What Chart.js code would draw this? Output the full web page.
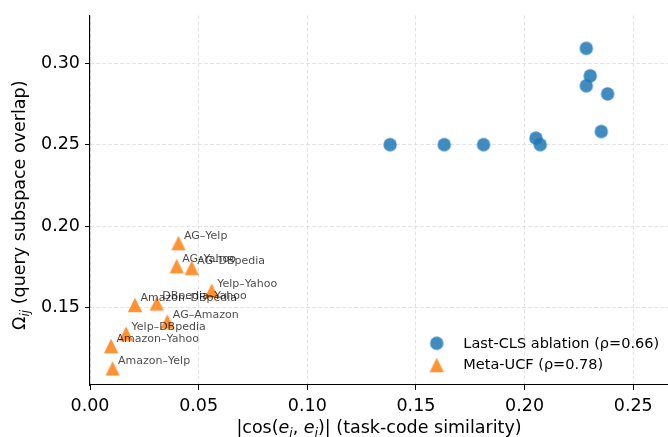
<!DOCTYPE html>
<html>
<head>
<meta charset="utf-8">
<script src="https://cdn.jsdelivr.net/npm/chart.js@4.4.1/dist/chart.umd.min.js"></script>
<style>
  html, body { margin: 0; padding: 0; background: #fff; }
  #wrap { width: 668px; height: 437px; position: relative; }
</style>
</head>
<body>
<div id="wrap"><canvas id="c"></canvas></div>
<script>
// ---- data ----
const pairLabels = ['AG–Yelp', 'AG–Yahoo', 'AG–DBpedia', 'Yelp–Yahoo', 'DBpedia–Yahoo',
                    'Amazon–DBpedia', 'AG–Amazon', 'Yelp–DBpedia', 'Amazon–Yahoo', 'Amazon–Yelp'];
const ucfCos   = [0.0407, 0.0399, 0.0468, 0.0560, 0.0307, 0.0207, 0.0356, 0.0166, 0.0097, 0.0104];
const ucfOmega = [0.1895, 0.1754, 0.1743, 0.1602, 0.1524, 0.1515, 0.1413, 0.1338, 0.1263, 0.1125];
const clsCos   = [0.2284, 0.2302, 0.2284, 0.2382, 0.2353, 0.2052, 0.2072, 0.1811, 0.1630, 0.1381];
const clsOmega = [0.3092, 0.2923, 0.2862, 0.2812, 0.2581, 0.2540, 0.2500, 0.2500, 0.2500, 0.2500];
const seriesNames = ['Last-CLS ablation (ρ=0.66)', 'Meta-UCF (ρ=0.78)'];
const xTickValues = [0.00, 0.05, 0.10, 0.15, 0.20, 0.25];
const xTickLabels = ['0.00', '0.05', '0.10', '0.15', '0.20', '0.25'];
const yTickValues = [0.15, 0.20, 0.25, 0.30];
const yTickLabels = ['0.15', '0.20', '0.25', '0.30'];

const FONT = "'DejaVu Sans', 'Liberation Sans', sans-serif";
const BLUE = 'rgba(31,119,180,0.85)';
const ORANGE = 'rgba(255,127,14,0.85)';

function makeMarker(shape, color) {
  const cv = document.createElement('canvas');
  cv.width = 16; cv.height = 16;
  const g = cv.getContext('2d');
  g.fillStyle = color;
  g.beginPath();
  if (shape === 'circle') {
    g.arc(8, 8, 6.7, 0, Math.PI * 2);
  } else {
    const h = 7.15;
    g.moveTo(8, 8 - h); g.lineTo(8 - h, 8 + h); g.lineTo(8 + h, 8 + h); g.closePath();
  }
  g.fill();
  return cv;
}
const circleMarker = makeMarker('circle', BLUE);
const triMarker = makeMarker('triangle', ORANGE);

const toPts = (xs, ys) => xs.map((x, i) => ({ x: x, y: ys[i] }));

function measureRich(ctx, segs, baseSize) {
  let w = 0;
  const parts = segs.map(s => {
    const size = s.sub ? baseSize * 0.7 : baseSize;
    const font = (s.it ? 'italic ' : '') + size + 'px ' + FONT;
    ctx.font = font;
    const mw = ctx.measureText(s.t).width;
    const p = { t: s.t, font: font, x: w, dy: s.sub ? baseSize * 0.22 : 0 };
    w += mw;
    return p;
  });
  return { width: w, parts: parts };
}
function paintRich(ctx, rich, x0, y0) {
  rich.parts.forEach(p => {
    ctx.font = p.font;
    ctx.fillText(p.t, x0 + p.x, y0 + p.dy);
  });
}

const xTitle = [
  { t: '|cos(' }, { t: 'e', it: true }, { t: 'i', it: true, sub: true }, { t: ', ' },
  { t: 'e', it: true }, { t: 'j', it: true, sub: true }, { t: ')| (task-code similarity)' }
];
const yTitle = [
  { t: 'Ω' }, { t: 'ij', it: true, sub: true }, { t: ' (query subspace overlap)' }
];

const decor = {
  id: 'decor',
  afterDatasetsDraw(chart) {
    const ctx = chart.ctx;
    const area = chart.chartArea;
    ctx.save();
    // point annotations
    const meta = chart.getDatasetMeta(1);
    ctx.fillStyle = 'rgba(0,0,0,0.72)';
    ctx.font = '11px ' + FONT;
    ctx.textAlign = 'left';
    ctx.textBaseline = 'alphabetic';
    meta.data.forEach((el, i) => {
      ctx.fillText(pairLabels[i], el.x + 5.5, el.y - 4);
    });
    // legend
    const legX = 436.7, legText = 463.3, rows = [343.3, 365];
    const marks = [circleMarker, triMarker];
    ctx.fillStyle = '#000';
    ctx.font = '14.5px ' + FONT;
    ctx.textBaseline = 'middle';
    rows.forEach((ry, i) => {
      ctx.drawImage(marks[i], legX - 8, ry - 8);
      ctx.fillText(seriesNames[i], legText, ry + 0.5);
    });
    // axis titles
    ctx.textBaseline = 'alphabetic';
    ctx.fillStyle = '#000';
    const base = 17.5;
    const rx = measureRich(ctx, xTitle, base);
    paintRich(ctx, rx, (area.left + area.right) / 2 - rx.width / 2, 433);
    const ry = measureRich(ctx, yTitle, base);
    ctx.translate(25, (area.top + area.bottom) / 2 + 5);
    ctx.rotate(-Math.PI / 2);
    paintRich(ctx, ry, -ry.width / 2, 0);
    ctx.restore();
  }
};

const gridCommon = {
  color: '#dcdcdc',
  lineWidth: 0.8,
  drawTicks: true,
  tickLength: 5,
  tickColor: '#000',
  tickWidth: 1,
  tickBorderDash: []
};
const borderCommon = { display: true, color: '#000', width: 1.1, dash: [4, 2] };

new Chart(document.getElementById('c'), {
  type: 'scatter',
  data: {
    datasets: [
      { label: seriesNames[0], data: toPts(clsCos, clsOmega), pointStyle: circleMarker,
        pointRadius: 7, backgroundColor: BLUE, borderWidth: 0 },
      { label: seriesNames[1], data: toPts(ucfCos, ucfOmega), pointStyle: triMarker,
        pointRadius: 7, backgroundColor: ORANGE, borderWidth: 0 }
    ]
  },
  options: {
    responsive: true,
    maintainAspectRatio: false,
    devicePixelRatio: 1,
    animation: false,
    layout: { padding: { top: 12, right: 0, left: 0, bottom: 0 }, autoPadding: false },
    plugins: { legend: { display: false }, tooltip: { enabled: false } },
    scales: {
      x: {
        type: 'linear', min: 0, max: 0.266,
        afterBuildTicks: s => { s.ticks = xTickValues.map(v => ({ value: v })); },
        afterFit: s => { s.height = 52; },
        ticks: {
          color: '#000', font: { family: FONT, size: 17.5 }, padding: 6, maxRotation: 0,
          callback: v => { const i = xTickValues.findIndex(t => Math.abs(t - v) < 1e-9); return i >= 0 ? xTickLabels[i] : ''; }
        },
        grid: gridCommon,
        border: borderCommon
      },
      y: {
        type: 'linear', min: 0.1023, max: 0.3294,
        afterBuildTicks: s => { s.ticks = yTickValues.map(v => ({ value: v })); },
        afterFit: s => { s.width = 90; },
        ticks: {
          color: '#000', font: { family: FONT, size: 17.5 }, padding: 5,
          callback: v => { const i = yTickValues.findIndex(t => Math.abs(t - v) < 1e-9); return i >= 0 ? yTickLabels[i] : ''; }
        },
        grid: gridCommon,
        border: borderCommon
      }
    }
  },
  plugins: [decor]
});
</script>
</body>
</html>
